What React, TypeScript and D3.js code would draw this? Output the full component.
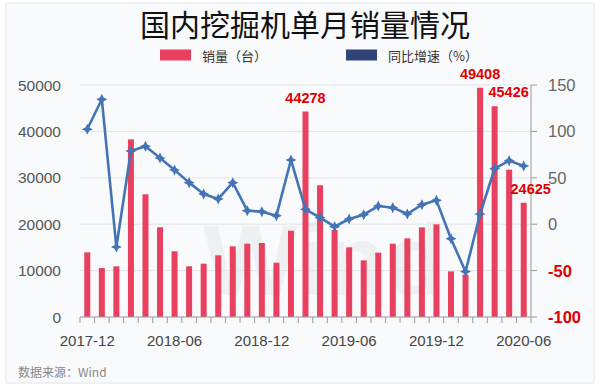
import React, { useEffect, useRef } from 'react';
import * as d3 from 'd3';

// 2017-12 .. 2020-06
const months = [
  '2017-12', '2018-01', '2018-02', '2018-03', '2018-04', '2018-05', '2018-06', '2018-07',
  '2018-08', '2018-09', '2018-10', '2018-11', '2018-12', '2019-01', '2019-02', '2019-03',
  '2019-04', '2019-05', '2019-06', '2019-07', '2019-08', '2019-09', '2019-10', '2019-11',
  '2019-12', '2020-01', '2020-02', '2020-03', '2020-04', '2020-05', '2020-06',
];
const sales = [
  13940, 10560, 10920, 38290, 26440, 19330, 14160, 10920,
  11490, 13290, 15230, 15800, 15950, 11700, 18600, 44278,
  28380, 18750, 15020, 12210, 13860, 15800, 16950, 19320,
  19970, 9840, 9120, 49408, 45426, 31750, 24625,
];
const growth = [
  102.3, 134.6, -24.6, 78.9, 83.9, 71.3, 58.4, 44.8,
  32.5, 27.2, 44.8, 14.6, 13.5, 9.2, 69.2, 16,
  7, -2.7, 5.6, 10.3, 19.6, 17.8, 11, 21,
  25.7, -15.6, -51.1, 11, 59.8, 68.5, 62.7,
];
const xTickLabels = ['2017-12', '2018-06', '2018-12', '2019-06', '2019-12', '2020-06'];
const leftTicks = [0, 10000, 20000, 30000, 40000, 50000];
const rightTicks = [-100, -50, 0, 50, 100, 150];
const labelled = ['2019-03', '2020-03', '2020-04', '2020-06'];

const W = 600;
const H = 389;
const margin = { top: 85, right: 69, bottom: 72, left: 80 };
const red = '#e8405e';
const blue = '#4474b6';
const font = '"Liberation Sans", Arial, sans-serif';
const cjk = '"Noto Sans CJK SC", sans-serif';

// 4-pointed star marker
const star4 = (r: number, ri: number) => {
  const pts: [number, number][] = [];
  for (let i = 0; i < 8; i++) {
    const a = (Math.PI / 4) * i - Math.PI / 2;
    const rr = i % 2 === 0 ? r : ri;
    pts.push([Math.cos(a) * rr, Math.sin(a) * rr]);
  }
  return 'M' + pts.map(p => p.join(',')).join('L') + 'Z';
};

const App = () => {
  const ref = useRef<SVGSVGElement | null>(null);

  useEffect(() => {
    const svg = d3.select(ref.current);
    svg.selectAll('*').remove();

    const x0 = margin.left;
    const x1 = W - margin.right;
    const yTop = margin.top;
    const yBot = H - margin.bottom;

    const x = d3.scaleBand().domain(months).range([x0, x1]).paddingInner(0).paddingOuter(0);
    const y = d3.scaleLinear().domain([0, 50000]).range([yBot, yTop]);
    const y2 = d3.scaleLinear().domain([-100, 150]).range([yBot, yTop]);

    // card
    svg.append('rect').attr('x', 5).attr('y', 2).attr('width', 590).attr('height', 382)
      .attr('fill', '#eef0f3').attr('rx', 2);
    svg.append('rect').attr('x', 7).attr('y', 4).attr('width', 586).attr('height', 378)
      .attr('fill', '#f9fafc');

    // title
    svg.append('text').attr('x', 305).attr('y', 36).attr('text-anchor', 'middle')
      .attr('font-family', cjk).attr('font-size', 30).attr('fill', '#111')
      .text('国内挖掘机单月销量情况');

    // legend
    const leg = [
      { label: '销量（台）', color: red, x: 160 },
      { label: '同比增速（%）', color: '#2f4379', x: 346 },
    ];
    leg.forEach(l => {
      svg.append('rect').attr('x', l.x).attr('y', 49.5).attr('width', 31).attr('height', 11).attr('fill', l.color);
      svg.append('text').attr('x', l.x + 42).attr('y', 60.5).attr('font-family', cjk)
        .attr('font-size', 13).attr('fill', '#333').text(l.label);
    });

    // watermark
    svg.append('text').attr('x', 325).attr('y', 295).attr('text-anchor', 'middle')
      .attr('font-family', font).attr('font-weight', 'bold').attr('font-size', 100)
      .attr('fill', '#000').attr('opacity', 0.035).text('Wind');

    // grid
    svg.append('g').selectAll('line').data(leftTicks.slice(1)).join('line')
      .attr('x1', x0).attr('x2', x1).attr('y1', d => y(d)).attr('y2', d => y(d))
      .attr('stroke', '#e3e4e6').attr('stroke-width', 1);

    // left axis labels
    svg.append('g').selectAll('text').data(leftTicks).join('text')
      .attr('x', 61).attr('y', d => y(d) + 5.5).attr('text-anchor', 'end')
      .attr('font-family', font).attr('font-size', 15.5).attr('fill', '#555')
      .text(d => String(d));

    // right axis
    svg.append('line').attr('x1', x1).attr('x2', x1).attr('y1', yTop).attr('y2', yBot)
      .attr('stroke', '#999');
    svg.append('g').selectAll('line').data(rightTicks).join('line')
      .attr('x1', x1).attr('x2', x1 + 6).attr('y1', d => y2(d)).attr('y2', d => y2(d))
      .attr('stroke', '#999');
    svg.append('g').selectAll('text').data(rightTicks).join('text')
      .attr('x', 548).attr('y', d => y2(d) + 6)
      .attr('font-family', font).attr('font-size', 16.5)
      .attr('font-weight', d => (d < 0 ? 'bold' : 'normal'))
      .attr('fill', d => (d < 0 ? '#e00000' : '#666'))
      .text(d => String(d));

    // bars
    const bw = 6;
    svg.append('g').selectAll('rect').data(months).join('rect')
      .attr('x', d => (x(d) as number) + x.bandwidth() / 2 - bw / 2)
      .attr('width', bw)
      .attr('y', (d, i) => y(sales[i]))
      .attr('height', (d, i) => yBot - y(sales[i]))
      .attr('fill', red);

    // bottom axis
    svg.append('line').attr('x1', x0).attr('x2', x1).attr('y1', yBot).attr('y2', yBot)
      .attr('stroke', '#999');
    const bounds = months.map(m => x(m) as number).concat([x1]);
    svg.append('g').selectAll('line').data(bounds).join('line')
      .attr('x1', d => d).attr('x2', d => d).attr('y1', yBot).attr('y2', yBot + 6)
      .attr('stroke', '#999');
    svg.append('g').selectAll('text').data(xTickLabels).join('text')
      .attr('x', d => (x(d) as number) + x.bandwidth() / 2).attr('y', 346)
      .attr('text-anchor', 'middle').attr('font-family', font).attr('font-size', 15)
      .attr('fill', '#444').text(d => d);

    // growth line
    const cx = (i: number) => (x(months[i]) as number) + x.bandwidth() / 2;
    const line = d3.line<number>().x((d, i) => cx(i)).y(d => y2(d));
    svg.append('path').datum(growth).attr('d', line).attr('fill', 'none')
      .attr('stroke', blue).attr('stroke-width', 2.6).attr('stroke-linejoin', 'round');
    svg.append('g').selectAll('path').data(growth).join('path')
      .attr('d', star4(5.5, 2.6))
      .attr('transform', (d, i) => `translate(${cx(i)},${y2(d)})`)
      .attr('fill', blue);

    // value labels
    const dx: Record<string, number> = { '2020-04': 14, '2020-06': 7 };
    svg.append('g').selectAll('text').data(labelled).join('text')
      .attr('x', d => (x(d) as number) + x.bandwidth() / 2 + (dx[d] || 0))
      .attr('y', d => y(sales[months.indexOf(d)]) - 9)
      .attr('text-anchor', 'middle').attr('font-family', font).attr('font-size', 14.5)
      .attr('font-weight', 'bold').attr('fill', '#e00000')
      .text(d => String(sales[months.indexOf(d)]));

    // source
    svg.append('text').attr('x', 18).attr('y', 377).attr('font-family', cjk)
      .attr('font-size', 12).attr('fill', '#888').text('数据来源：Wind');
  }, []);

  return (
    <svg ref={ref} width={W} height={H} style={{ position: 'absolute', left: 0, top: 0, background: '#fff' }} />
  );
};

export default App;
